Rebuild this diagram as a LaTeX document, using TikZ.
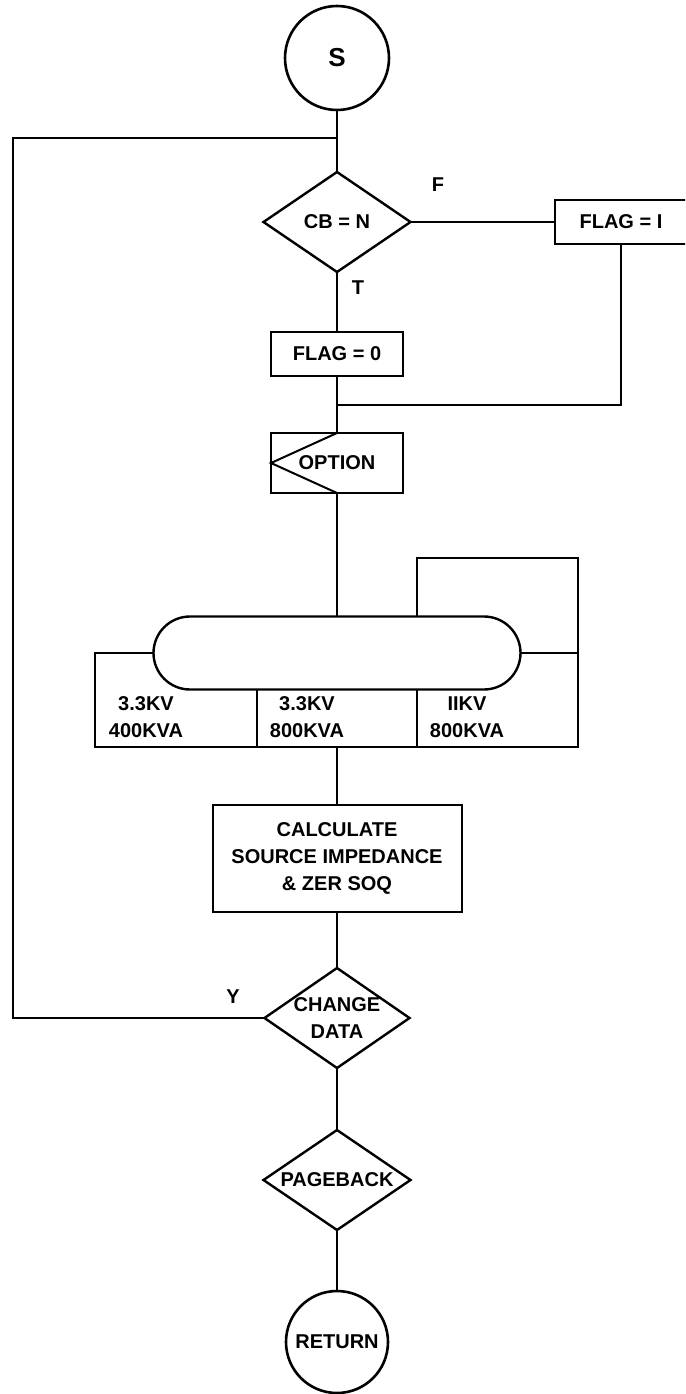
\documentclass[tikz,border=0pt]{standalone}
\usepackage{fontspec}
\setmainfont{Liberation Sans}
\usetikzlibrary{shapes.geometric, shapes.misc, positioning}
\newcommand\chartfont{\fontsize{20}{27}\selectfont\bfseries}

\begin{document}
\begin{tikzpicture}[
    x=1pt, y=-1pt,
    line width=2pt,
    every node/.style={font=\chartfont, inner sep=0pt, outer sep=0pt, align=center},
    terminal/.style={draw, circle, line width=2.6pt, minimum size=104pt},
    decision/.style={draw, diamond, aspect=1.47, line width=2.4pt, minimum width=147pt, minimum height=100pt},
    process/.style={draw, rectangle, minimum width=132pt, minimum height=44pt},
    menu/.style={draw, rounded rectangle, line width=2.4pt, minimum width=367pt, minimum height=73pt},
    tag/.style={font=\chartfont}
]
    \clip (0,0) rectangle (685,1394);

    \node[terminal, font=\fontsize{26}{30}\selectfont\bfseries] (start) at (337,58) {S};
    \node[decision] (cb) at (337,222) {CB = N};
    \node[process] (flagone) at (621,222) {FLAG = I};
    \node[process] (flagzero) at (337,354) {FLAG = 0};
    \node[process, minimum height=60pt] (option) at (337,463) {OPTION};
    \node[menu] (menu) at (337,653) {};
    \node (cellA) at (146,717) {3.3KV\\400KVA};
    \node (cellB) at (307,717) {3.3KV\\800KVA};
    \node (cellC) at (467,717) {IIKV\\800KVA};
    \node[process, minimum width=249pt, minimum height=107pt] (calc) at (337,858)
        {CALCULATE\\SOURCE IMPEDANCE\\\& ZER SOQ};
    \node[decision, minimum width=145pt, label={[tag, align=center]center:CHANGE\\DATA}] (change) at (337,1018) {};
    \node[decision] (pageback) at (337,1180) {PAGEBACK};
    \node[terminal, minimum size=102pt] (return) at (337,1342) {RETURN};

    \node (F) at (438,185) {F};
    \node (T) at (358,288) {T};
    \node (Y) at (233,997) {Y};

    \coordinate (jtop) at (337,138);
    \coordinate (loopcorner) at (13,138);
    \coordinate (jmerge) at (337,405);
    \coordinate (rloop) at (417,558);
    \coordinate (rcorner) at (578,558);
    \coordinate (lcorner) at (95,653);
    \coordinate (lbot) at (95,747);
    \coordinate (rbot) at (578,747);
    \coordinate (sepA) at (257,747);
    \coordinate (sepB) at (417,747);
    \coordinate (rowmid) at (337,747);

    \draw (start.south) -- (cb.north);
    \draw (change.west) -| (loopcorner) -- (jtop);
    \draw (cb.east) -- (flagone.west);
    \draw (cb.south) -- (flagzero.north);
    \draw (flagone.south) |- (jmerge);
    \draw (flagzero.south) -- (option.north);
    \draw (option.north) -- (option.west) -- (option.south);
    \draw (option.south) -- (menu.north);
    \draw (rloop |- menu.north) -- (rloop) -- (rcorner) -- (rbot) -- (lbot) -- (lcorner) -- (menu.west);
    \draw (menu.east) -- (menu.east -| rcorner);
    \draw (sepA |- menu.south) -- (sepA);
    \draw (sepB |- menu.south) -- (sepB);
    \draw (rowmid) -- (calc.north);
    \draw (calc.south) -- (change.north);
    \draw (change.south) -- (pageback.north);
    \draw (pageback.south) -- (return.north);
\end{tikzpicture}
\end{document}
